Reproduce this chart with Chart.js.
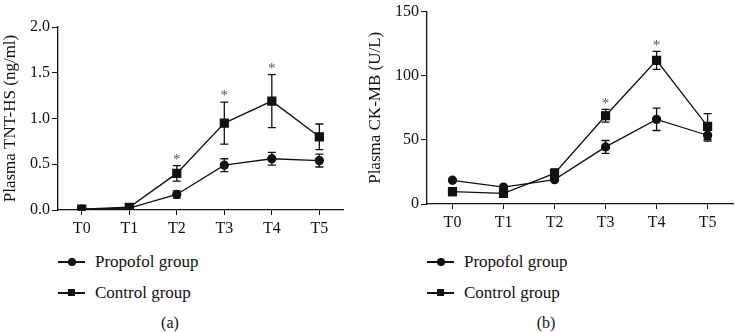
<!DOCTYPE html>
<html>
<head>
<meta charset="utf-8">
<script src="https://cdn.jsdelivr.net/npm/chart.js@4"></script>
<style>
  * { font-family: "Liberation Serif", "Times New Roman", serif; }
  body { margin: 0; background: #fff; width: 735px; height: 332px; position: relative; overflow: hidden; color: #111; }
  .panel { position: absolute; top: 0; height: 240px; }
  .legend { position: absolute; font-size: 17px; }
  .item { position: absolute; white-space: nowrap; height: 18px; line-height: 18px; }
  .item .ln { position: absolute; left: 0; top: 8px; width: 27px; height: 1.5px; background: #111; }
  .item .mk { position: absolute; background: #111; }
  .item .mk.c { left: 10px; top: 5px; width: 7.5px; height: 7.5px; border-radius: 50%; }
  .item .mk.s { left: 10px; top: 5px; width: 7px; height: 7px; }
  .item span { position: absolute; left: 37px; top: 0; }
  .cap { position: absolute; top: 314px; font-size: 16px; line-height: 18px; width: 40px; text-align: center; }
</style>
</head>
<body>
<div class="panel" style="left:0;width:350px"><canvas id="chartA"></canvas></div>
<div class="panel" style="left:365px;width:375px"><canvas id="chartB"></canvas></div>

<div class="legend" style="left:58px;top:253px">
  <div class="item" style="top:0"><div class="ln"></div><div class="mk c"></div><span>Propofol group</span></div>
  <div class="item" style="top:31px"><div class="ln"></div><div class="mk s"></div><span>Control group</span></div>
</div>
<div class="legend" style="left:427px;top:253px">
  <div class="item" style="top:0"><div class="ln"></div><div class="mk c"></div><span>Propofol group</span></div>
  <div class="item" style="top:31px"><div class="ln"></div><div class="mk s"></div><span>Control group</span></div>
</div>
<div class="cap" style="left:150px">(a)</div>
<div class="cap" style="left:526px">(b)</div>

<script>
const timePoints = ['T0', 'T1', 'T2', 'T3', 'T4', 'T5'];

// (a) Plasma TNT-HS
const tntPropofol = [0.01, 0.02, 0.17, 0.49, 0.56, 0.54];
const tntPropofolErr = [0.01, 0.01, 0.04, 0.07, 0.07, 0.07];
const tntControl = [0.01, 0.03, 0.40, 0.95, 1.19, 0.80];
const tntControlErr = [0.01, 0.01, 0.085, 0.23, 0.29, 0.14];
const tntStars = [false, false, true, true, true, false];

// (b) Plasma CK-MB
const ckPropofol = [18.5, 13.2, 19, 44.5, 66, 53.6];
const ckPropofolErr = [0, 0, 0, 5, 8.7, 4.5];
const ckControl = [9.6, 8.3, 23.8, 68.8, 112, 60.5];
const ckControlErr = [3, 3, 3.5, 5, 7, 10];
const ckStars = [false, false, false, true, true, false];

const ink = '#111';
const serif = 'Liberation Serif';

const errorBars = {
  id: 'errorBars',
  beforeDatasetsDraw(chart) {
    const ctx = chart.ctx;
    const y = chart.scales.y;
    chart.data.datasets.forEach((ds, i) => {
      const meta = chart.getDatasetMeta(i);
      meta.data.forEach((pt, j) => {
        const e = ds.err[j];
        if (!e) return;
        const top = y.getPixelForValue(ds.data[j] + e);
        const bot = y.getPixelForValue(ds.data[j] - e);
        ctx.save();
        ctx.strokeStyle = ink;
        ctx.lineWidth = 1.3;
        ctx.beginPath();
        ctx.moveTo(pt.x, top); ctx.lineTo(pt.x, bot);
        ctx.moveTo(pt.x - 4, top); ctx.lineTo(pt.x + 4, top);
        ctx.moveTo(pt.x - 4, bot); ctx.lineTo(pt.x + 4, bot);
        ctx.stroke();
        ctx.restore();
      });
    });
  },
  afterDatasetsDraw(chart) {
    const ctx = chart.ctx;
    const y = chart.scales.y;
    const stars = chart.options.plugins.errorBars.stars;
    const ds = chart.data.datasets[1];
    const meta = chart.getDatasetMeta(1);
    stars.forEach((s, j) => {
      if (!s) return;
      const top = y.getPixelForValue(ds.data[j] + ds.err[j]);
      ctx.save();
      ctx.fillStyle = '#555';
      ctx.font = '15px ' + serif;
      ctx.textAlign = 'center';
      ctx.textBaseline = 'top';
      ctx.fillText('*', meta.data[j].x, top - 13);
      ctx.restore();
    });
  }
};

function makeChart(id, propofol, propErr, control, ctrlErr, stars, yOpts, yTitle, yWidth, xHeight, pad) {
  const ctx = document.getElementById(id).getContext('2d');
  return new Chart(ctx, {
    type: 'line',
    data: {
      labels: timePoints,
      datasets: [{
        label: 'Propofol group',
        data: propofol,
        err: propErr,
        borderColor: ink,
        backgroundColor: ink,
        borderWidth: 1.3,
        pointStyle: 'circle',
        pointRadius: 4,
        tension: 0
      }, {
        label: 'Control group',
        data: control,
        err: ctrlErr,
        borderColor: ink,
        backgroundColor: ink,
        borderWidth: 1.3,
        pointStyle: 'rect',
        pointRadius: 5.6,
        tension: 0
      }]
    },
    options: {
      responsive: true,
      maintainAspectRatio: false,
      animation: false,
      layout: { padding: pad },
      plugins: {
        legend: { display: false },
        tooltip: { enabled: false },
        errorBars: { stars: stars }
      },
      scales: {
        x: {
          offset: true,
          grid: { drawOnChartArea: false, drawTicks: true, tickLength: 5, color: ink },
          border: { color: ink, width: 1.3 },
          ticks: { color: ink, font: { family: serif, size: 16 }, padding: 4 },
          afterFit: s => { s.height = xHeight; }
        },
        y: Object.assign({
          grid: { drawOnChartArea: false, drawTicks: true, tickLength: 6, color: ink },
          border: { color: ink, width: 1.3 },
          title: { display: true, text: yTitle, color: ink, font: { family: serif, size: 17 }, padding: 0 },
          afterFit: s => { s.width = yWidth; }
        }, yOpts)
      }
    },
    plugins: [errorBars]
  });
}

makeChart('chartA', tntPropofol, tntPropofolErr, tntControl, tntControlErr, tntStars, {
  min: 0, max: 2,
  ticks: { stepSize: 0.5, color: ink, font: { family: serif, size: 16 }, padding: 2, callback: v => v.toFixed(1) }
}, 'Plasma TNT-HS (ng/ml)', 58, 30, { top: 27, right: 2, left: 0, bottom: 0 });

makeChart('chartB', ckPropofol, ckPropofolErr, ckControl, ckControlErr, ckStars, {
  min: 0, max: 150,
  ticks: { stepSize: 50, color: ink, font: { family: serif, size: 16 }, padding: 2 }
}, 'Plasma CK-MB (U/L)', 62, 36, { top: 6, right: 0, left: 0, bottom: 0 });
</script>
</body>
</html>
